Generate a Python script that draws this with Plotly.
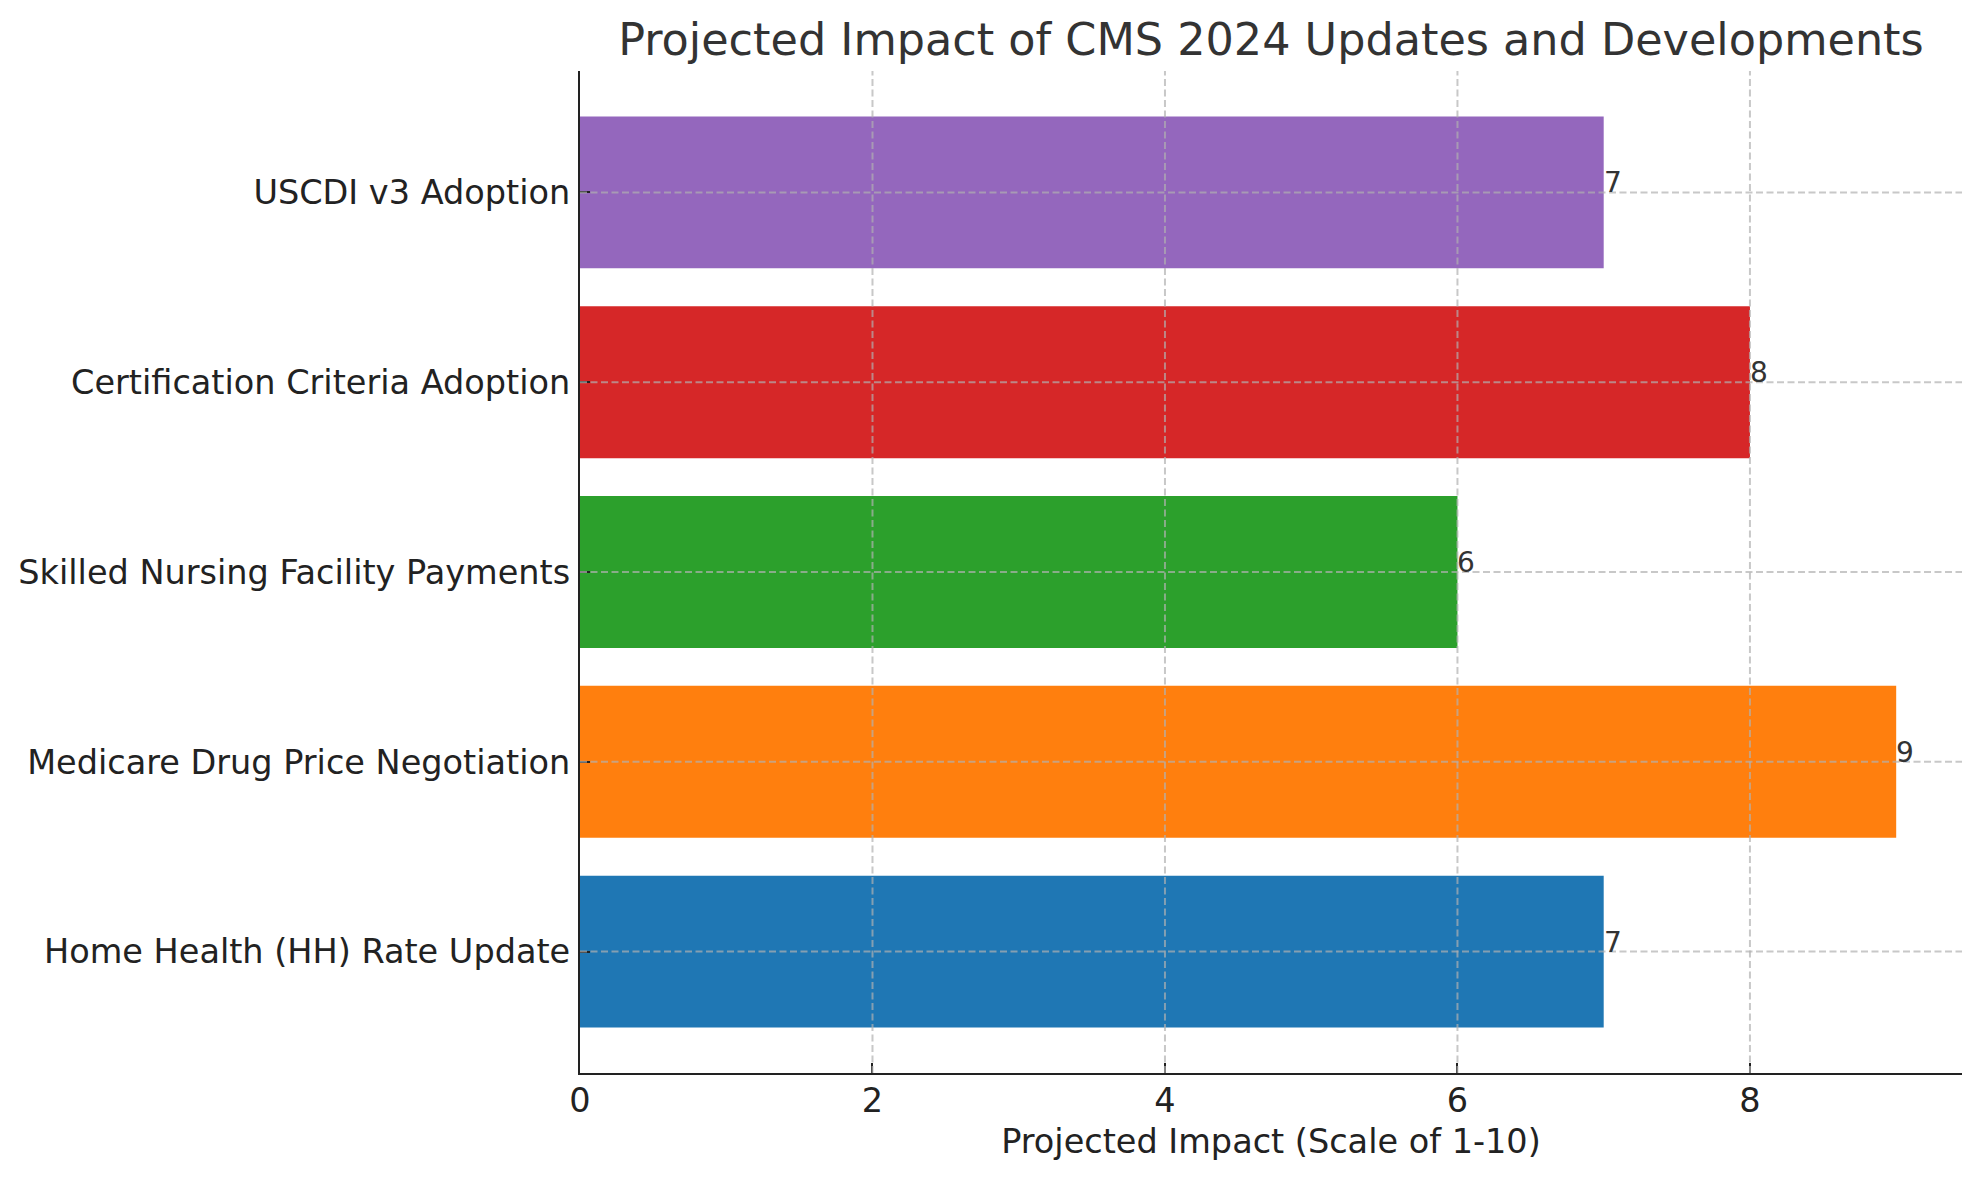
import plotly.graph_objects as go

# chart data
categories = [
    "Home Health (HH) Rate Update",
    "Medicare Drug Price Negotiation",
    "Skilled Nursing Facility Payments",
    "Certification Criteria Adoption",
    "USCDI v3 Adoption",
]
impact = [7, 9, 6, 8, 7]
bar_colors = ["#1f77b4", "#ff7f0e", "#2ca02c", "#d62728", "#9467bd"]
x_ticks = [0, 2, 4, 6, 8]

FONT = "DejaVu Sans"
GRID = "rgba(176,176,176,0.7)"
AXIS = "#222222"

fig = go.Figure()
fig.add_trace(go.Bar(
    x=impact, y=categories, orientation="h",
    marker=dict(color=bar_colors, line=dict(width=0)),
    width=0.8, showlegend=False,
))

# value labels at the end of each bar
for cat, val in zip(categories, impact):
    fig.add_annotation(
        x=val, y=cat, text=str(val), showarrow=False,
        xanchor="left", yanchor="bottom", yshift=-9, xshift=-2,
        font=dict(family=FONT, size=28, color="#333333"),
    )

# dashed grid drawn above the bars, like the original
for t in x_ticks[1:]:
    fig.add_shape(type="line", xref="x", yref="paper", x0=t, x1=t, y0=0, y1=1,
                  line=dict(color=GRID, width=2, dash="7px,3.5px"), layer="above")
for cat in categories:
    fig.add_shape(type="line", xref="paper", yref="y", x0=0, x1=1, y0=cat, y1=cat,
                  line=dict(color=GRID, width=2, dash="7px,3.5px"), layer="above")

fig.update_layout(
    width=1979, height=1180,
    margin=dict(l=572, r=25, t=63, b=115),
    paper_bgcolor="white", plot_bgcolor="white",
    font=dict(family=FONT, color=AXIS),
    title=dict(
        text="Projected Impact of CMS 2024 Updates and Developments",
        x=0.5, xref="paper", y=1 - 31 / 1180, yref="container", yanchor="middle",
        font=dict(family=FONT, size=44.5, color="#333333"),
    ),
    xaxis=dict(
        range=[0, 9.45], tickvals=x_ticks, showgrid=False, zeroline=False,
        automargin=False,
        showline=True, linecolor=AXIS, linewidth=2.2,
        ticks="inside", ticklen=10, tickwidth=2.2, tickcolor=AXIS,
        ticklabelstandoff=-3,
        tickfont=dict(family=FONT, size=33.5, color=AXIS),
        title=dict(text="Projected Impact (Scale of 1-10)", standoff=10,
                   font=dict(family=FONT, size=33.5, color=AXIS)),
    ),
    yaxis=dict(
        type="category", categoryorder="array", categoryarray=categories,
        range=[-0.64, 4.64], showgrid=False, zeroline=False,
        automargin=False,
        showline=True, linecolor=AXIS, linewidth=2.2,
        ticks="inside", ticklen=10, tickwidth=2.2, tickcolor=AXIS,
        ticklabelstandoff=1,
        tickfont=dict(family=FONT, size=33.5, color=AXIS),
    ),
)

fig.write_html("out.html")
